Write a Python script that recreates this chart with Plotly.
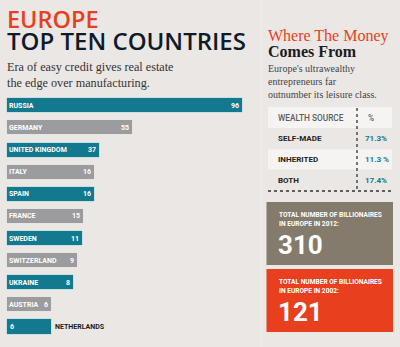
import plotly.graph_objects as go

# ---------------- data ----------------
countries = ["RUSSIA", "GERMANY", "UNITED KINGDOM", "ITALY", "SPAIN", "FRANCE",
             "SWEDEN", "SWITZERLAND", "UKRAINE", "AUSTRIA", "NETHERLANDS"]
billionaires = [96, 55, 37, 16, 16, 15, 11, 9, 8, 6, 6]
# drawn bar lengths (same units, Russia = 96)
bar_lengths = [96, 51.3, 37.7, 35.7, 35.7, 31.3, 30.8, 28.6, 27.0, 18.2, 18.2]
label_outside = [False] * 10 + [True]

wealth_header = ["WEALTH SOURCE", "%"]
wealth_sources = ["SELF-MADE", "INHERITED", "BOTH"]
wealth_shares = ["71.3%", "11.3 %", "17.4%"]

totals_labels = ["TOTAL NUMBER OF BILLIONAIRES<br>IN EUROPE IN 2012:",
                 "TOTAL NUMBER OF BILLIONAIRES<br>IN EUROPE IN 2002:"]
totals_values = ["310", "121"]

# ---------------- style ----------------
W, H = 400, 347
BG = "#ebe7e4"
TEAL = "#13798f"
GREY = "#9c9b9d"
RED = "#e8401f"
NAVY = "#0f1b29"
TAUPE = "#857b6c"
ROWBG = "#f6f4f3"
SANS = "Roboto"
SERIF = "Liberation Serif"
TITLE = "Open Sans"


def px(x):
    return x / W


def py(y):
    return 1 - y / H


# axis mapping: value 0 -> x=7.3px, 96 -> x=243.3px
k = (243.3 - 7.3) / 96
x_range = [-7.3 / k, (W - 7.3) / k]
pitch = 22.12
y_top = 0 - 105.8 / pitch
y_range = [y_top + H / pitch, y_top]

colors = [TEAL if i % 2 == 0 else GREY for i in range(len(countries))]

fig = go.Figure()
fig.add_trace(go.Bar(
    x=bar_lengths, y=countries, orientation="h",
    marker=dict(color=colors, line=dict(color="rgba(255,255,255,0.6)", width=1)),
    width=0.68, hoverinfo="skip", showlegend=False,
))

ann = []
LBL = dict(family=SANS, size=7, weight="bold")
for i, (c, v, L) in enumerate(zip(countries, billionaires, bar_lengths)):
    if label_outside[i]:
        ann.append(dict(x=0, y=c, xref="x", yref="y", text=str(v), showarrow=False,
                        xanchor="left", xshift=1, font=dict(LBL, color="white")))
        ann.append(dict(x=L, y=c, xref="x", yref="y", text=c, showarrow=False,
                        xanchor="left", xshift=1, font=dict(LBL, color="#1a1a1a")))
    else:
        ann.append(dict(x=0, y=c, xref="x", yref="y", text=c, showarrow=False,
                        xanchor="left", xshift=0, font=dict(LBL, color="white")))
        ann.append(dict(x=L, y=c, xref="x", yref="y", text=str(v), showarrow=False,
                        xanchor="right", xshift=-2, font=dict(LBL, color="white")))


def text(x, y, t, size, color, family, weight="normal", xanchor="left", yanchor="middle"):
    ann.append(dict(x=px(x), y=py(y), xref="paper", yref="paper", text=t, showarrow=False,
                    xanchor=xanchor, yanchor=yanchor, align="left",
                    font=dict(family=family, size=size, color=color, weight=weight)))


# left titles (one text block; line pitch set by the base size)
text(4.5, 1, f"<span style='font-size:23.5px;color:{RED}'>EUROPE</span><br>"
     f"<span style='font-size:24px'>TOP TEN COUNTRIES</span>",
     17.3, NAVY, TITLE, 600, yanchor="top")
text(5, 67, "Era of easy credit gives real estate", 12.2, "#333333", SERIF)
text(5, 83, "the edge over manufacturing.", 12.2, "#333333", SERIF)

# right titles
text(266, 36, "Where The Money", 16, RED, SERIF)
text(266, 52, "Comes From", 16, "#1c1c1c", SERIF, "bold")
text(266, 68, "Europe's ultrawealthy", 10, "#444444", SERIF)
text(266, 81, "entrepreneurs far", 10, "#444444", SERIF)
text(266, 95, "outnumber its leisure class.", 10, "#444444", SERIF)

# table
text(276, 117.5, wealth_header[0], 8.3, "#5e5e5e", SANS, 500)
text(366, 117.5, wealth_header[1], 8.3, "#5e5e5e", SANS, 500)
row_y = [138.5, 159.5, 180.5]
for yy, s, p in zip(row_y, wealth_sources, wealth_shares):
    text(276, yy, s, 8, "#222222", SANS, "bold")
    text(363, yy, p, 8, TEAL, SANS, "bold")

# totals boxes
box_y = [(202, 265), (269, 332)]
box_c = [TAUPE, RED]
for (y0, y1), lab, val in zip(box_y, totals_labels, totals_values):
    text(277, y0 + 17, lab, 6.6, "white", SANS, "bold")
    text(276, y0 + 43, val, 26, "white", SANS, "bold")

shapes = [
    dict(type="line", xref="paper", yref="paper", x0=px(261), x1=px(261), y0=0, y1=1,
         line=dict(color="#efebe9", width=1.5), layer="below"),
    dict(type="rect", xref="paper", yref="paper", x0=px(268), x1=px(392), y0=py(107), y1=py(128),
         fillcolor=ROWBG, line=dict(width=0), layer="below"),
    dict(type="rect", xref="paper", yref="paper", x0=px(268), x1=px(392), y0=py(149.5), y1=py(169.5),
         fillcolor=ROWBG, line=dict(width=0), layer="below"),
    dict(type="line", xref="paper", yref="paper", x0=px(357), x1=px(357), y0=py(108), y1=py(189),
         line=dict(color="#333333", width=1.3, dash="dot")),
    dict(type="line", xref="paper", yref="paper", x0=px(268), x1=px(393), y0=py(191), y1=py(191),
         line=dict(color="#333333", width=1.3, dash="dot")),
]
for (y0, y1), col in zip(box_y, box_c):
    shapes.append(dict(type="rect", xref="paper", yref="paper", x0=px(266.5), x1=px(393),
                       y0=py(y0), y1=py(y1), fillcolor=col, line=dict(width=0), layer="below"))

fig.update_layout(
    width=W, height=H, margin=dict(l=0, r=0, t=0, b=0),
    paper_bgcolor=BG, plot_bgcolor="rgba(0,0,0,0)",
    xaxis=dict(range=x_range, visible=False, fixedrange=True),
    yaxis=dict(type="category", categoryorder="array", categoryarray=countries,
               range=y_range, visible=False, fixedrange=True),
    annotations=ann, shapes=shapes, bargap=0,
)

fig.write_html("out.html", config={"displayModeBar": False})
